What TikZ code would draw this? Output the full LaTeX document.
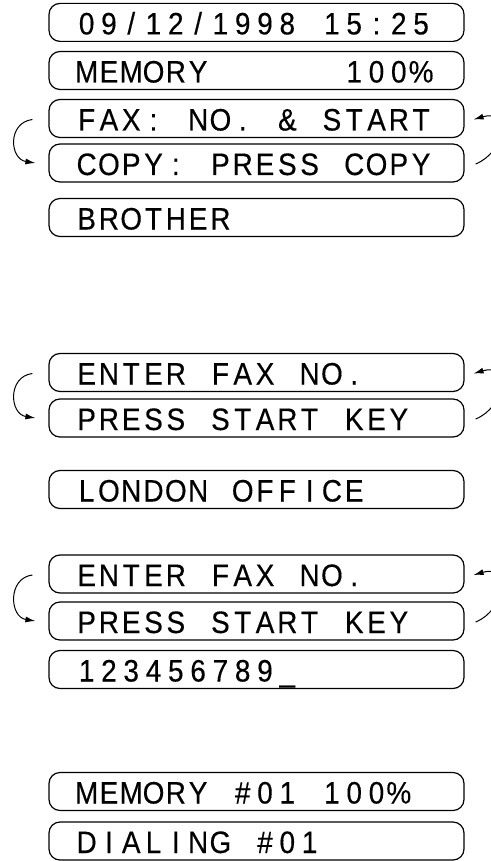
\documentclass[tikz,border=0pt]{standalone}
\usepackage{fontspec}
\usetikzlibrary{arrows.meta}
\newfontfamily\lcdfont[FakeStretch=0.9,FakeBold=0.35]{Liberation Sans}
\newlength\lcdcw
\setlength\lcdcw{22.3pt}
\newcommand\lcdloop[1]{\ifx#1\relax\else\makebox[\lcdcw][c]{\smash{#1}}\expandafter\lcdloop\fi}
\newcommand\lcdline[1]{\makebox[362pt][l]{\rule{0pt}{24pt}\lcdloop#1\relax}}
\tikzset{
  lcdbox/.style={draw, line width=1.2pt, rounded corners=11pt, minimum height=38pt,
    inner xsep=26.5pt, inner ysep=0pt, font=\lcdfont\fontsize{31pt}{33pt}\selectfont},
  cyc/.style={line width=1pt, -{Latex[length=10pt,width=6pt]}}
}
\begin{document}
\begin{tikzpicture}[x=1pt,y=-1pt]
\useasboundingbox (0,0) rectangle (490,861);
\node[lcdbox] (b1) at (256.5,22.4) {\lcdline{09/12/1998~15:25}};
\node[lcdbox] (b2) at (256.5,70.5) {\lcdline{MEMORY~~~~~~100\%}};
\node[lcdbox] (b3) at (256.5,118.5) {\lcdline{FAX:~NO.~\&~START}};
\node[lcdbox] (b4) at (256.5,163) {\lcdline{COPY:~PRESS~COPY}};
\node[lcdbox] (b5) at (256.5,217.5) {\lcdline{BROTHER}};
\node[lcdbox] (b6) at (256.5,372.5) {\lcdline{ENTER~FAX~NO.}};
\node[lcdbox] (b7) at (256.5,418) {\lcdline{PRESS~START~KEY}};
\node[lcdbox] (b8) at (256.5,489.5) {\lcdline{LONDON~OFFICE}};
\node[lcdbox] (b9) at (256.5,574) {\lcdline{ENTER~FAX~NO.}};
\node[lcdbox] (b10) at (256.5,621) {\lcdline{PRESS~START~KEY}};
\node[lcdbox] (b11) at (256.5,669.5) {\lcdline{123456789\_}};
\node[lcdbox] (b12) at (256.5,791.5) {\lcdline{MEMORY~\#01~100\%}};
\node[lcdbox] (b13) at (256.5,841) {\lcdline{DIALING~\#01}};
\foreach \u/\l in {b3/b4, b6/b7, b9/b10}{
  \draw[cyc] ([xshift=-16pt,yshift=-1pt]\u.west) .. controls +(-25,3) and +(-26,-4) .. ([xshift=-13pt]\l.west);
  \draw[cyc] ([xshift=11pt,yshift=-1pt]\l.east) .. controls +(30,-12) and +(37,-11) .. ([xshift=9pt,yshift=-1pt]\u.east);
}
\end{tikzpicture}
\end{document}
